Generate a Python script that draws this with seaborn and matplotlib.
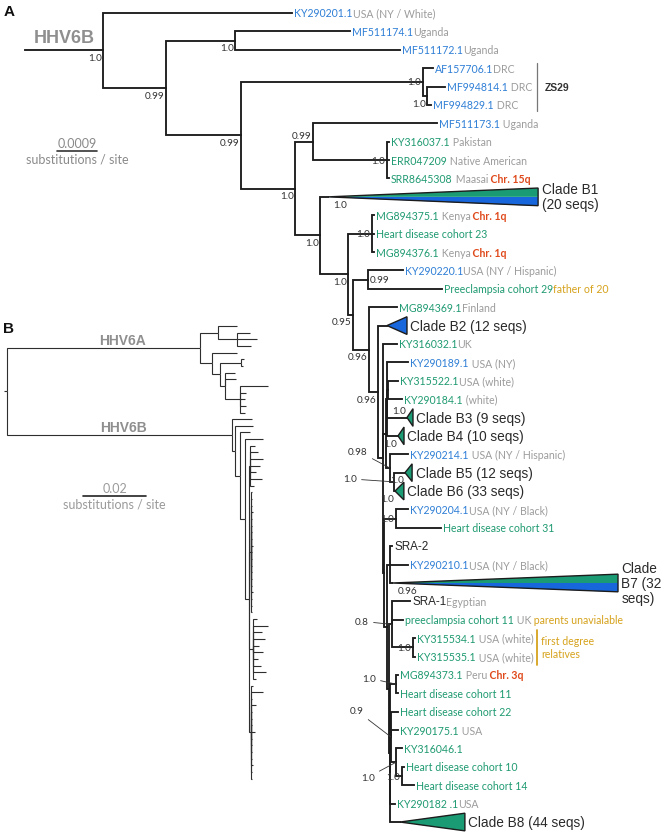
import numpy as np
import pandas as pd
import matplotlib
matplotlib.use('Agg')
import matplotlib.pyplot as plt
import seaborn as sns

# ---------------- Panel A: HHV-6B tree (branch lengths, 1e-4 substitutions / site) ----------------
a_node = ['root', 'N1', 'KY290201.1', 'N2', 'N3', 'MF511174.1', 'MF511172.1', 'N4', 'N5', 'AF157706.1',
          'N5b', 'MF994814.1', 'MF994829.1', 'N6', 'N7', 'MF511173.1', 'N9', 'KY316037.1', 'ERR047209',
          'SRR8645308', 'N8', 'B1', 'N10', 'N11', 'MG894375.1', 'Heart disease cohort 23', 'MG894376.1',
          'N12', 'N13', 'KY290220.1', 'Preeclampsia cohort 29', 'N14', 'MG894369.1', 'N15', 'B2', 'N16',
          'KY316032.1', 'N17', 'N18', 'KY290189.1', 'N20', 'KY315522.1', 'KY290184.1', 'B3', 'B4', 'N19',
          'KY290214.1', 'N22', 'B5', 'B6', 'N24', 'N25', 'KY290204.1', 'Heart disease cohort 31', 'N26',
          'N27', 'SRA-2', 'KY290210.1', 'B7', 'N28', 'N29', 'SRA-1', 'preeclampsia cohort 11', 'N31',
          'KY315534.1', 'KY315535.1', 'N30', 'N32', 'MG894373.1', 'Heart disease cohort 11', 'N33',
          'Heart disease cohort 22', 'KY290175.1', 'N34', 'KY316046.1', 'N35', 'Heart disease cohort 10',
          'Heart disease cohort 14', 'KY290182 .1', 'B8']
a_parent = [None, 'root', 'N1', 'N1', 'N2', 'N3', 'N3', 'N2', 'N4', 'N5',
            'N5', 'N5b', 'N5b', 'N4', 'N6', 'N7', 'N7', 'N9', 'N9',
            'N9', 'N6', 'N8', 'N8', 'N10', 'N11', 'N11', 'N11',
            'N10', 'N12', 'N13', 'N13', 'N12', 'N14', 'N14', 'N15', 'N15',
            'N16', 'N16', 'N17', 'N18', 'N18', 'N20', 'N20', 'N18', 'N18', 'N17',
            'N19', 'N19', 'N22', 'N22', 'N16', 'N24', 'N25', 'N25', 'N24',
            'N26', 'N27', 'N27', 'N27', 'N26', 'N28', 'N29', 'N29', 'N29',
            'N31', 'N31', 'N28', 'N30', 'N32', 'N32', 'N30',
            'N33', 'N33', 'N33', 'N34', 'N34', 'N35',
            'N35', 'N30', 'N30']
a_length = [0, 17.55, 42.53, 14.18, 15.52, 25.88, 37.13, 16.87, 40.95, 2.25,
            0.9, 4.05, 0.9, 12.15, 4.05, 27.9, 16.65, 0.45, 0.45,
            0.45, 5.63, 1.82, 6.3, 5.4, 0.45, 0.45, 0.45,
            1.12, 3.38, 7.87, 16.65, 3.6, 6.3, 2.03, 2.02, 1.12,
            3.15, 0.68, 0.22, 4.73, 0.23, 2.25, 3.15, 4.5, 2.48, 0.9,
            4.05, 0.9, 2.47, 0.22, 0.23, 2.7, 2.7, 10.12, 0.67,
            0.68, 0.45, 4.05, 0.45, 0.45, 0.68, 4.05, 2.47, 4.72,
            0.45, 0.45, 0.23, 1.35, 0.45, 0.45, 0.22,
            1.58, 1.58, 1.13, 1.35, 1.35, 0.45,
            2.7, 1.12, 2.25]

# collapsed clades
clade_name = ['B1', 'B2', 'B3', 'B4', 'B5', 'B6', 'B7', 'B8']
clade_depth = [47.25, 4.5, 1.35, 1.35, 1.6, 2.0, 50.85, 14.6]
clade_label = ['Clade B1\n(20 seqs)', 'Clade B2 (12 seqs)', 'Clade B3 (9 seqs)', 'Clade B4 (10 seqs)',
               'Clade B5 (12 seqs)', 'Clade B6 (33 seqs)', 'Clade\nB7 (32\nseqs)', 'Clade B8 (44 seqs)']
clade_fill = ['green/blue', 'blue', 'green', 'green', 'green', 'green', 'green/blue', 'green']

# tip labels
tip_name = ['KY290201.1', 'MF511174.1', 'MF511172.1', 'AF157706.1', 'MF994814.1', 'MF994829.1',
            'MF511173.1', 'KY316037.1', 'ERR047209', 'SRR8645308', 'MG894375.1', 'Heart disease cohort 23',
            'MG894376.1', 'KY290220.1', 'Preeclampsia cohort 29', 'MG894369.1', 'KY316032.1', 'KY290189.1',
            'KY315522.1', 'KY290184.1', 'KY290214.1', 'KY290204.1', 'Heart disease cohort 31', 'SRA-2',
            'KY290210.1', 'SRA-1', 'preeclampsia cohort 11', 'KY315534.1', 'KY315535.1', 'MG894373.1',
            'Heart disease cohort 11', 'Heart disease cohort 22', 'KY290175.1', 'KY316046.1',
            'Heart disease cohort 10', 'Heart disease cohort 14', 'KY290182 .1']
tip_colour = ['blue', 'blue', 'blue', 'blue', 'blue', 'blue',
              'blue', 'green', 'green', 'green', 'green', 'green',
              'green', 'blue', 'green', 'green', 'green', 'blue',
              'green', 'green', 'blue', 'blue', 'green', 'black',
              'blue', 'black', 'green', 'green', 'green', 'green',
              'green', 'green', 'green', 'green',
              'green', 'green', 'green']
tip_place = ['USA (NY / White)', 'Uganda', 'Uganda', 'DRC', ' DRC', ' DRC',
             ' Uganda', ' Pakistan', ' Native American', ' Maasai', ' Kenya', '',
             ' Kenya', 'USA (NY / Hispanic)', '', 'Finland', 'UK', ' USA (NY)',
             'USA (white)', ' (white)', ' USA (NY / Hispanic)', 'USA (NY / Black)', '', '',
             'USA (NY / Black)', 'Egyptian', ' UK', ' USA (white)', ' USA (white)', ' Peru',
             '', '', ' USA', '',
             '', '', 'USA']
tip_note = ['', '', '', '', '', '',
            '', '', '', ' Chr. 15q', ' Chr. 1q', '',
            ' Chr. 1q', '', 'father of 20', '', '', '',
            '', '', '', '', '', '',
            '', '', ' parents unavialable', '', '', ' Chr. 3q',
            '', '', '', '',
            '', '', '']

# posterior support
support_node = ['N1', 'N2', 'N3', 'N5', 'N5b', 'N4', 'N7', 'N9', 'N6', 'N8', 'B1', 'N10', 'N11', 'N13',
                'N12', 'N14', 'N15', 'B3', 'B4', 'N19', 'N22', 'B5', 'B6', 'N25', 'B7', 'N29', 'N31',
                'N32', 'N33', 'N34', 'N35']
support_value = ['1.0', '0.99', '1.0', '1.0', '1.0', '0.99', '0.99', '1.0', '1.0', '1.0', '1.0', '1.0', '1.0', '0.99',
                 '0.95', '0.96', '0.96', '1.0', '1.0', '0.98', '1.0', '1.0', '1.0', '1.0', '0.96', '0.8', '1.0',
                 '1.0', '0.9', '1.0', '1.0']

# ---------------- Panel B: HHV-6A / HHV-6B tree (branch lengths, 1e-3 substitutions / site) ----------------
b_node = ['root', 'R', 'A0', 'A1', 'a0', 'A2', 'a1', 'a2', 'a3', 'A4', 'a4', 'A5', 'A6', 'a5', 'a6', 'A7',
          'a7', 'a8', 'A8', 'a9', 'a10', 'a11', 'a12', 'a13', 'B0', 'b0', 'B1', 'b1', 'B2', 'b2', 'B3', 'b3', 'B4']
b_parent = [None, 'root', 'R', 'A0', 'A1', 'A1', 'A2', 'A2', 'A2', 'A0', 'A4', 'A4', 'A5', 'A6', 'A6', 'A5',
            'A7', 'A7', 'A7', 'A8', 'A8', 'A8', 'A8', 'A8', 'R', 'B0', 'B0', 'B1', 'B1', 'B2', 'B2', 'B3', 'B3']
b_length = [0, 0.95, 61.27, 5.71, 6.03, 6.03, 4.13, 6.35, 4.44, 3.81, 7.94, 2.54, 6.67, 0.95, 0.63, 1.59,
            3.17, 3.49, 4.76, 8.89, 1.9, 1.59, 1.9, 1.59, 71.43, 6.35, 0.95, 5.71, 1.59, 3.17, 1.59, 5.71, 1.27]
b_fan = ['B5', 'B6', 'B7', 'B8']
b_fan_length = [0.32, 0.63, 1.27, 0.63]
b_fan_tips = [[1.59, 2.54, 4.13, 3.17, 1.9, 3.81, 1.27],
              [0.2, 0.4, 0.2, 0.6, 0.2, 0.4, 0.2, 0.2, 0.6, 0.4, 0.2, 0.4, 0.2, 0.2, 0.4,
               0.6, 0.2, 0.4, 0.2],
              [1.27, 4.76, 2.86, 3.81, 1.9, 3.17, 1.59, 2.54, 4.13, 0.95],
              [0.6, 3.8, 0.4, 1.6, 0.2, 0.4, 0.2, 1.3, 0.4, 0.2, 0.4, 0.2, 0.6, 0.2, 0.4]]

# ---------------- styling ----------------
sns.set_theme(style='white')
plt.rcParams['font.family'] = ['Lato', 'DejaVu Sans']

INK = '#1c1c1c'
COLS = {'blue': '#2f7fd6', 'green': '#1f9a72', 'black': '#262626'}
TRI = {'green': '#1a9b74', 'blue': '#1766dc'}
GREY = '#9c9c9c'
RED = '#df4a1c'
GOLD = '#d6a21c'
SANS = ['Liberation Sans', 'DejaVu Sans']


def tree_layout(names, parents, lengths):
    kids = {n: [] for n in names}
    depth = {}
    for n, p, l in zip(names, parents, lengths):
        if p is None:
            depth[n] = l
        else:
            kids[p].append(n)
            depth[n] = depth[p] + l
    row = {}
    tips = [n for n in names if not kids[n]]
    for i, n in enumerate(tips):
        row[n] = float(i)
    for n in reversed(names):
        if kids[n]:
            row[n] = (row[kids[n][0]] + row[kids[n][-1]]) / 2
    return depth, row


def branch_frame(names, parents, depth, row):
    recs = []
    for n, p in zip(names, parents):
        if p is None:
            continue
        recs += [(n, depth[p], row[p]), (n, depth[p], row[n]), (n, depth[n], row[n])]
    return pd.DataFrame(recs, columns=['branch', 'x', 'y'])


fig = plt.figure(figsize=(6.62, 8.37), dpi=100)

# ================= Panel A =================
axA = fig.add_axes([0, 0, 1, 1])
depth, row = tree_layout(a_node, a_parent, a_length)
dfA = branch_frame(a_node, a_parent, depth, row)
sns.lineplot(data=dfA, x='x', y='y', units='branch', estimator=None, sort=False, color=INK,
             linewidth=1.35, ax=axA, legend=False, solid_capstyle='projecting', solid_joinstyle='miter')

# collapsed clades as triangles
h = 0.48
for c, w, fill, lab in zip(clade_name, clade_depth, clade_fill, clade_label):
    x0, y0 = depth[c], row[c]
    x1 = x0 + w
    if fill == 'green/blue':
        axA.fill([x0, x1, x1], [y0, y0 - h, y0], color=TRI['green'], lw=0)
        axA.fill([x0, x1, x1], [y0, y0, y0 + h], color=TRI['blue'], lw=0)
    else:
        axA.fill([x0, x1, x1], [y0, y0 - h, y0 + h], color=TRI[fill], lw=0)
    axA.fill([x0, x1, x1], [y0, y0 - h, y0 + h], fill=False, ec=INK, lw=1.0, joinstyle='miter')
    axA.annotate(lab, (x1, y0), xytext=(2.5, 0), textcoords='offset points', ha='left', va='center',
                 fontsize=9.8, color='#2a2a2a', family=SANS, linespacing=1.1)

# tip labels, built from coloured pieces
for name, col, place, note in zip(tip_name, tip_colour, tip_place, tip_note):
    fam = SANS if col == 'black' else None
    t = axA.annotate(name, (depth[name], row[name]), xytext=(1.5, 0), textcoords='offset points',
                     ha='left', va='center', fontsize=7.6 if col != 'black' else 8.4,
                     color=COLS[col], **({'family': fam} if fam else {}))
    if place:
        t = axA.annotate(place, xy=(1, 0), xycoords=t, ha='left', va='bottom', fontsize=7.6, color=GREY)
    if note:
        if note.strip().startswith('Chr'):
            axA.annotate(note, xy=(1, 0), xycoords=t, ha='left', va='bottom', fontsize=7.6,
                         color=RED, fontweight='bold')
        else:
            axA.annotate(note, xy=(1, 0), xycoords=t, ha='left', va='bottom', fontsize=7.6, color=GOLD)

# support values
place_style = {'N7': 'above', 'N9': 'left', 'N5': 'left', 'N11': 'left', 'N13': 'right', 'B3': 'above',
               'B1': 'belowright', 'B7': 'belowright', 'N25': 'left', 'N31': 'left', 'N35': 'left'}
leader = {'N19': (-32, 17), 'N22': (-44, 3), 'N29': (-30, 3), 'N32': (-27, 6), 'N33': (-34, 26),
          'N34': (-28, -15)}
SUP = 7.2
for n, v in zip(support_node, support_value):
    xy = (depth[n], row[n])
    kw = dict(fontsize=SUP, color='#333333', textcoords='offset points')
    if n in leader:
        axA.annotate(v, xy, xytext=leader[n], ha='center', va='center', fontsize=SUP, color='#333333',
                     textcoords='offset pixels',
                     arrowprops=dict(arrowstyle='-', color='#333333', lw=0.6, shrinkA=1, shrinkB=0))
        continue
    style = place_style.get(n, 'below')
    if style == 'below':
        axA.annotate(v, xy, xytext=(-1, -2), ha='right', va='top', **kw)
    elif style == 'above':
        axA.annotate(v, xy, xytext=(-1, 1.5), ha='right', va='bottom', **kw)
    elif style == 'left':
        axA.annotate(v, xy, xytext=(-1.5, 0), ha='right', va='center', **kw)
    elif style == 'right':
        axA.annotate(v, xy, xytext=(1.5, 0), ha='left', va='center', **kw)
    else:
        axA.annotate(v, xy, xytext=(4, -2), ha='left', va='top', **kw)

# brackets
xb = 115.2
axA.plot([xb, xb], [row['AF157706.1'] - 0.3, row['MF994829.1'] + 0.35], color='#777777', lw=0.9)
axA.text(xb + 1.8, row['MF994814.1'], 'ZS29', ha='left', va='center', fontsize=7.5,
         fontweight='bold', color='#333333', family=SANS)
axA.plot([xb, xb], [row['KY315534.1'] - 0.45, row['KY315535.1'] + 0.45], color=GOLD, lw=1.3)
axA.text(xb + 1.0, (row['KY315534.1'] + row['KY315535.1']) / 2, 'first degree\nrelatives', ha='left',
         va='center', fontsize=7.6, color=GOLD, linespacing=1.25)

# HHV6B root label and scale bar
axA.annotate('HHV6B', (depth['N1'] / 2, row['N1']), xytext=(0, 3), textcoords='offset points',
             ha='center', va='bottom', fontsize=13, fontweight='bold', color='#8f8f8f', family=SANS)
sb_x, sb_len, sb_y = 7.2, 9.0, 7.5
axA.plot([sb_x, sb_x + sb_len], [sb_y, sb_y], color='#333333', lw=1.2)
axA.annotate('0.0009', (sb_x + sb_len / 2, sb_y), xytext=(0, 1.5), textcoords='offset points',
             ha='center', va='bottom', fontsize=9, color='#8a8a8a')
axA.annotate('substitutions / site', (sb_x + sb_len / 2, sb_y), xytext=(0, -1.5), textcoords='offset points',
             ha='center', va='top', fontsize=9, color='#8a8a8a')

axA.set_xlim(-5.625, 143.33)
axA.set_ylim(44.76, -0.761)
axA.axis('off')
axA.patch.set_alpha(0)

# ================= Panel B =================
names_b, parents_b, lengths_b = list(b_node), list(b_parent), list(b_length)
for f, fl, tl in zip(b_fan, b_fan_length, b_fan_tips):
    names_b.append(f)
    parents_b.append('B4')
    lengths_b.append(fl)
    for j, l in enumerate(tl):
        names_b.append(f'{f}_{j}')
        parents_b.append(f)
        lengths_b.append(l)

axB = fig.add_axes([0, 0, 1, 1])
depth_b, row_b = tree_layout(names_b, parents_b, lengths_b)
dfB = branch_frame(names_b, parents_b, depth_b, row_b)
sns.lineplot(data=dfB, x='x', y='y', units='branch', estimator=None, sort=False, color='#2e2e2e',
             linewidth=0.8, ax=axB, legend=False, solid_capstyle='butt', solid_joinstyle='miter')

for node, frac, lab in [('A0', 0.6, 'HHV6A'), ('B0', 0.52, 'HHV6B')]:
    x_mid = depth_b['R'] + frac * (depth_b[node] - depth_b['R'])
    axB.annotate(lab, (x_mid, row_b[node]), xytext=(0, 0.5), textcoords='offset points', ha='center',
                 va='bottom', fontsize=10, fontweight='bold', color='#8f8f8f', family=SANS)

sbb_x, sbb_len, sbb_y = 25.1, 20.0, 25.5
axB.plot([sbb_x, sbb_x + sbb_len], [sbb_y, sbb_y], color='#222222', lw=1.2)
axB.annotate('0.02', (sbb_x + sbb_len / 2, sbb_y), xytext=(0, 1.5), textcoords='offset points',
             ha='center', va='bottom', fontsize=9, color='#9a9a9a')
axB.annotate('substitutions / site', (sbb_x + sbb_len / 2, sbb_y), xytext=(0, -1.5),
             textcoords='offset points', ha='center', va='top', fontsize=9, color='#9a9a9a')

axB.set_xlim(-1.27, 208.9)
axB.set_ylim(76.6, -49.1)
axB.axis('off')
axB.patch.set_alpha(0)

# panel letters
fig.text(0.006, 0.994, 'A', ha='left', va='top', fontsize=11, fontweight='bold', color='#111111', family=SANS)
fig.text(0.004, 1 - 322 / 837, 'B', ha='left', va='top', fontsize=11, fontweight='bold', color='#111111',
         family=SANS)

fig.savefig('out.png', dpi=100)
